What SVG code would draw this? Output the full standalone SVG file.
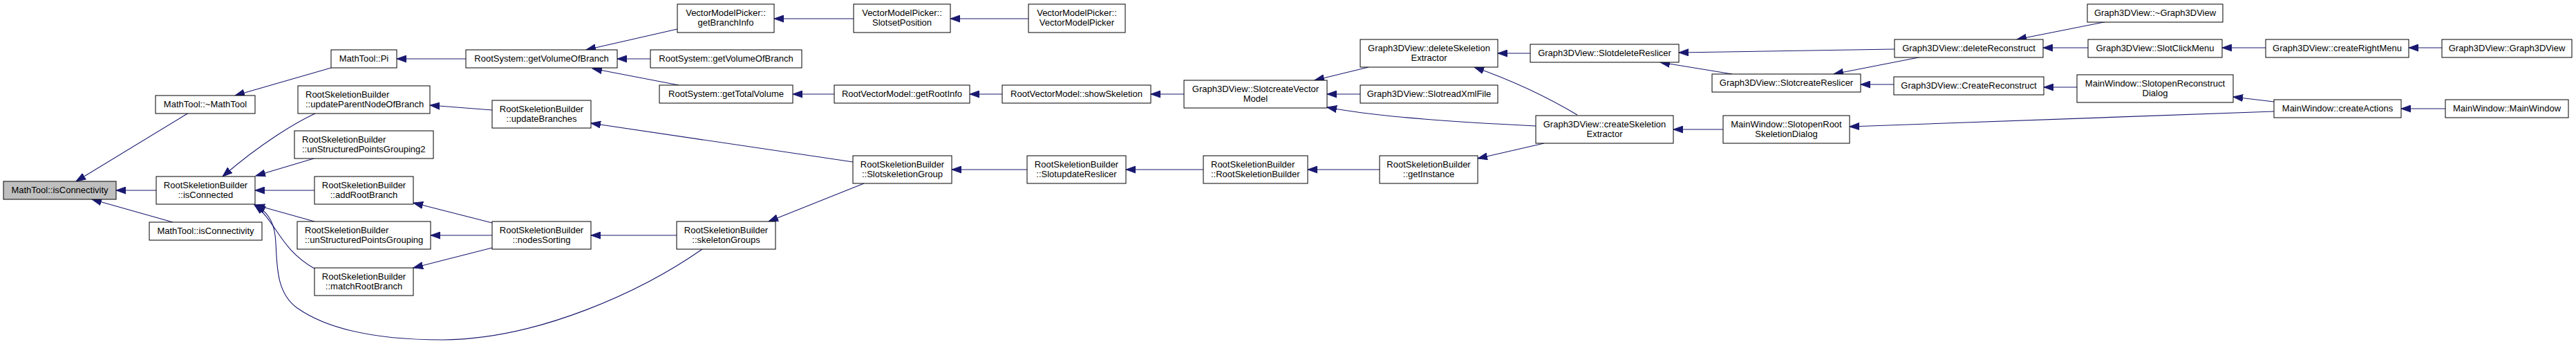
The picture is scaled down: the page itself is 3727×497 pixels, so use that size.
<svg xmlns="http://www.w3.org/2000/svg" width="3727" height="497" viewBox="0 0 3727 497">
<style>
.node rect{fill:#ffffff;stroke:#000000;stroke-width:1}
.node.main rect{fill:#bfbfbf}
.node text{font-family:"Liberation Sans",Arial,sans-serif;font-size:13px;fill:#000000;text-anchor:middle}
.node text.l{text-anchor:start}
.edges path{fill:none;stroke:#191970;stroke-width:1.1;marker-end:url(#arr)}
</style>
<defs>
<marker id="arr" markerUnits="userSpaceOnUse" markerWidth="15" markerHeight="11" refX="14" refY="5" orient="auto" viewBox="0 0 15 10">
<path d="M0,0 L14,5 L0,10 Z" fill="#191970" stroke="#191970" stroke-width="1"/>
</marker>
</defs>
<rect width="3727" height="497" fill="#ffffff"/>
<g class="edges">
<path d="M273,163 L110,262"/>
<path d="M226,275 L168,275"/>
<path d="M250,321 L133,288"/>
<path d="M479,98 L340,138"/>
<path d="M674,85 L574,85"/>
<path d="M456,164 C430,176 380,205 322,255"/>
<path d="M454,229 L370,254"/>
<path d="M455,275 L369,275"/>
<path d="M455,320 L369,296"/>
<path d="M455,388 C405,360 400,320 368,296"/>
<path d="M1016,360 C930,420 780,490 640,491 C560,491 480,480 430,445 C395,420 402,370 398,340 C395,315 382,303 370,297"/>
<path d="M712,159 L622,152"/>
<path d="M1234,234 L855,178"/>
<path d="M712,322 L598,293"/>
<path d="M712,340 L623,340"/>
<path d="M712,358 L598,387"/>
<path d="M979,340 L855,340"/>
<path d="M1250,265 L1112,320"/>
<path d="M980,42 L848,72"/>
<path d="M941,85 L893,85"/>
<path d="M982,123 L857,99"/>
<path d="M1235,27 L1120,27"/>
<path d="M1488,27 L1375,27"/>
<path d="M1207,136 L1147,136"/>
<path d="M1450,136 L1403,136"/>
<path d="M1713,136 L1665,136"/>
<path d="M1486,245 L1377,245"/>
<path d="M1741,245 L1629,245"/>
<path d="M1996,245 L1892,245"/>
<path d="M1980,97 L1902,116"/>
<path d="M1968,136 L1920,136"/>
<path d="M2222,182 C2120,177 2000,170 1920,155"/>
<path d="M2234,207 L2138,229"/>
<path d="M2214,77 L2167,77"/>
<path d="M2282,166 C2240,141 2190,117 2133,97"/>
<path d="M2741,71 L2429,76"/>
<path d="M2506,107 L2402,90"/>
<path d="M2493,187 L2421,187"/>
<path d="M2781,82 L2653,107"/>
<path d="M2740,122 L2692,122"/>
<path d="M3049,31 L2918,57"/>
<path d="M3021,69 L2956,69"/>
<path d="M3005,126 L2957,126"/>
<path d="M3278,69 L3215,69"/>
<path d="M3533,69 L3485,69"/>
<path d="M3290,147 L3231,140"/>
<path d="M3290,161 L2676,183"/>
<path d="M3538,157 L3474,157"/>
</g>
<g id="n0" class="node main"><rect x="5" y="262" width="163" height="26"/><text x="86.5" y="279">MathTool::isConnectivity</text></g>
<g id="n1" class="node"><rect x="225" y="138" width="144" height="26"/><text x="297" y="155">MathTool::~MathTool</text></g>
<g id="n2" class="node"><rect x="226" y="255" width="143" height="40"/><text x="297.5" y="272">RootSkeletionBuilder</text><text x="297.5" y="286">::isConnected</text></g>
<g id="n3" class="node"><rect x="216" y="321" width="163" height="26"/><text x="297.5" y="338">MathTool::isConnectivity</text></g>
<g id="n4" class="node"><rect x="479" y="72" width="95" height="26"/><text x="526.5" y="89">MathTool::Pi</text></g>
<g id="n5" class="node"><rect x="431" y="124" width="191" height="40"/><text class="l" x="442" y="141">RootSkeletionBuilder</text><text class="l" x="442" y="155">::updateParentNodeOfBranch</text></g>
<g id="n6" class="node"><rect x="426" y="189" width="201" height="40"/><text class="l" x="437" y="206">RootSkeletionBuilder</text><text class="l" x="437" y="220">::unStructuredPointsGrouping2</text></g>
<g id="n7" class="node"><rect x="455" y="255" width="143" height="40"/><text x="526.5" y="272">RootSkeletionBuilder</text><text x="526.5" y="286">::addRootBranch</text></g>
<g id="n8" class="node"><rect x="430" y="320" width="193" height="40"/><text class="l" x="441" y="337">RootSkeletionBuilder</text><text class="l" x="441" y="351">::unStructuredPointsGrouping</text></g>
<g id="n9" class="node"><rect x="455" y="387" width="143" height="40"/><text x="526.5" y="404">RootSkeletionBuilder</text><text x="526.5" y="418">::matchRootBranch</text></g>
<g id="n10" class="node"><rect x="674" y="72" width="219" height="26"/><text x="783.5" y="89">RootSystem::getVolumeOfBranch</text></g>
<g id="n11" class="node"><rect x="712" y="145" width="143" height="40"/><text x="783.5" y="162">RootSkeletionBuilder</text><text x="783.5" y="176">::updateBranches</text></g>
<g id="n12" class="node"><rect x="712" y="320" width="143" height="40"/><text x="783.5" y="337">RootSkeletionBuilder</text><text x="783.5" y="351">::nodesSorting</text></g>
<g id="n13" class="node"><rect x="980" y="6" width="140" height="41"/><text x="1050" y="23">VectorModelPicker::</text><text x="1050" y="37">getBranchInfo</text></g>
<g id="n14" class="node"><rect x="941" y="72" width="219" height="26"/><text x="1050.5" y="89">RootSystem::getVolumeOfBranch</text></g>
<g id="n15" class="node"><rect x="954" y="123" width="193" height="26"/><text x="1050.5" y="140">RootSystem::getTotalVolume</text></g>
<g id="n16" class="node"><rect x="979" y="320" width="143" height="40"/><text x="1050.5" y="337">RootSkeletionBuilder</text><text x="1050.5" y="351">::skeletonGroups</text></g>
<g id="n17" class="node"><rect x="1235" y="6" width="140" height="41"/><text x="1305" y="23">VectorModelPicker::</text><text x="1305" y="37">SlotsetPosition</text></g>
<g id="n18" class="node"><rect x="1207" y="123" width="196" height="26"/><text x="1305" y="140">RootVectorModel::getRootInfo</text></g>
<g id="n19" class="node"><rect x="1234" y="225" width="143" height="40"/><text x="1305.5" y="242">RootSkeletionBuilder</text><text x="1305.5" y="256">::SlotskeletionGroup</text></g>
<g id="n20" class="node"><rect x="1488" y="6" width="140" height="41"/><text x="1558" y="23">VectorModelPicker::</text><text x="1558" y="37">VectorModelPicker</text></g>
<g id="n21" class="node"><rect x="1450" y="123" width="215" height="26"/><text x="1557.5" y="140">RootVectorModel::showSkeletion</text></g>
<g id="n22" class="node"><rect x="1486" y="225" width="143" height="40"/><text x="1557.5" y="242">RootSkeletionBuilder</text><text x="1557.5" y="256">::SlotupdateReslicer</text></g>
<g id="n23" class="node"><rect x="1713" y="116" width="207" height="40"/><text x="1816.5" y="133">Graph3DView::SlotcreateVector</text><text x="1816.5" y="147">Model</text></g>
<g id="n24" class="node"><rect x="1741" y="225" width="151" height="40"/><text class="l" x="1752" y="242">RootSkeletionBuilder</text><text class="l" x="1752" y="256">::RootSkeletionBuilder</text></g>
<g id="n25" class="node"><rect x="1968" y="57" width="199" height="40"/><text x="2067.5" y="74">Graph3DView::deleteSkeletion</text><text x="2067.5" y="88">Extractor</text></g>
<g id="n26" class="node"><rect x="1968" y="123" width="199" height="26"/><text x="2067.5" y="140">Graph3DView::SlotreadXmlFile</text></g>
<g id="n27" class="node"><rect x="1996" y="225" width="142" height="40"/><text x="2067" y="242">RootSkeletionBuilder</text><text x="2067" y="256">::getInstance</text></g>
<g id="n28" class="node"><rect x="2214" y="64" width="215" height="26"/><text x="2321.5" y="81">Graph3DView::SlotdeleteReslicer</text></g>
<g id="n29" class="node"><rect x="2222" y="167" width="199" height="40"/><text x="2321.5" y="184">Graph3DView::createSkeletion</text><text x="2321.5" y="198">Extractor</text></g>
<g id="n30" class="node"><rect x="2477" y="107" width="215" height="26"/><text x="2584.5" y="124">Graph3DView::SlotcreateReslicer</text></g>
<g id="n31" class="node"><rect x="2493" y="167" width="183" height="40"/><text x="2584.5" y="184">MainWindow::SlotopenRoot</text><text x="2584.5" y="198">SkeletionDialog</text></g>
<g id="n32" class="node"><rect x="2741" y="57" width="215" height="26"/><text x="2848.5" y="74">Graph3DView::deleteReconstruct</text></g>
<g id="n33" class="node"><rect x="2740" y="111" width="217" height="26"/><text x="2848.5" y="128">Graph3DView::CreateReconstruct</text></g>
<g id="n34" class="node"><rect x="3020" y="6" width="196" height="26"/><text x="3118" y="23">Graph3DView::~Graph3DView</text></g>
<g id="n35" class="node"><rect x="3021" y="57" width="194" height="26"/><text x="3118" y="74">Graph3DView::SlotClickMenu</text></g>
<g id="n36" class="node"><rect x="3005" y="108" width="226" height="40"/><text x="3118" y="125">MainWindow::SlotopenReconstruct</text><text x="3118" y="139">Dialog</text></g>
<g id="n37" class="node"><rect x="3278" y="57" width="207" height="26"/><text x="3381.5" y="74">Graph3DView::createRightMenu</text></g>
<g id="n38" class="node"><rect x="3290" y="144" width="184" height="26"/><text x="3382" y="161">MainWindow::createActions</text></g>
<g id="n39" class="node"><rect x="3533" y="57" width="188" height="26"/><text x="3627" y="74">Graph3DView::Graph3DView</text></g>
<g id="n40" class="node"><rect x="3538" y="144" width="178" height="26"/><text x="3627" y="161">MainWindow::MainWindow</text></g>
</svg>
